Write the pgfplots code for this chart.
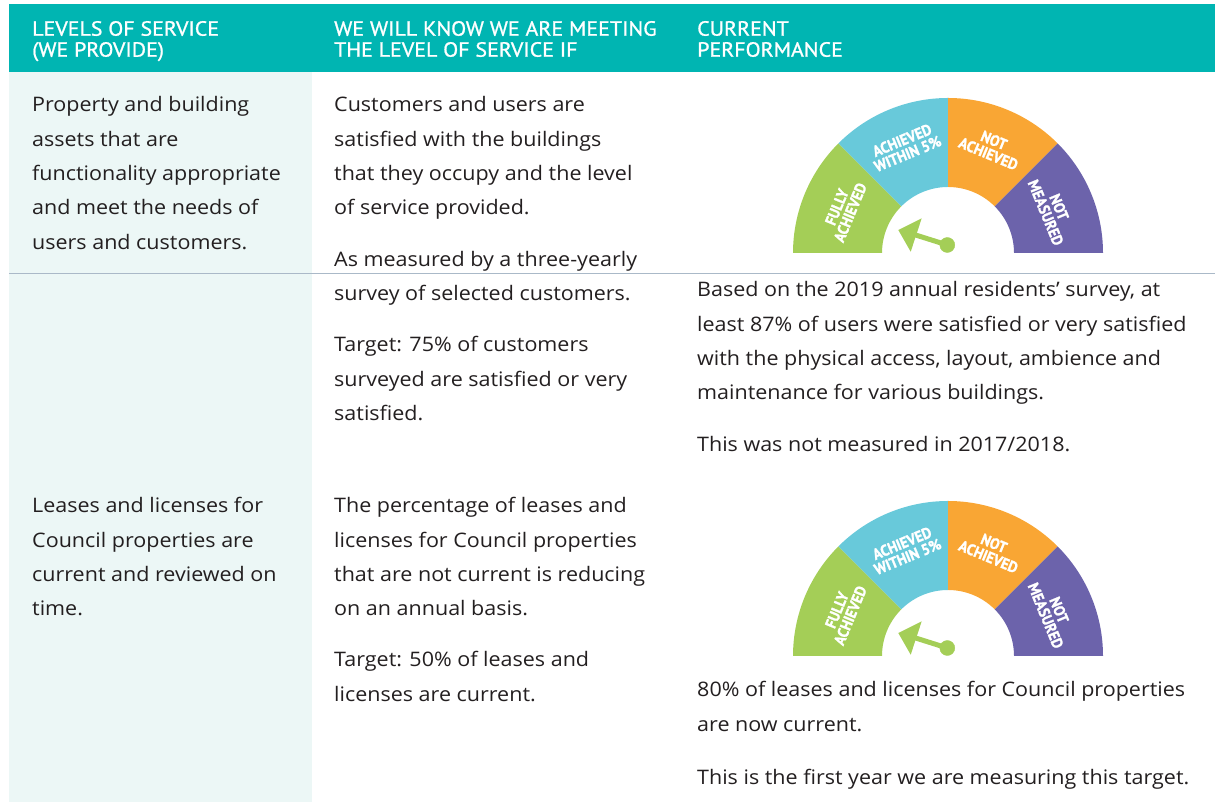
\documentclass[border=0pt]{standalone}
\usepackage{pgfplots}
\pgfplotsset{compat=1.18}
\usepackage{fontspec}
\setmainfont[FakeStretch=1.075]{Open Sans}
\newfontfamily\hdrfont[FakeStretch=1.07,FakeBold=1]{PT Sans}
\newfontfamily\gfont[FakeStretch=0.92,FakeBold=1.5]{PT Sans Bold}
\definecolor{hdr}{RGB}{0,181,178}
\definecolor{leftbg}{RGB}{236,247,246}
\definecolor{sep}{RGB}{170,185,200}
\definecolor{ggreen}{RGB}{164,206,87}
\definecolor{gcyan}{RGB}{104,201,218}
\definecolor{gorange}{RGB}{249,166,52}
\definecolor{gpurple}{RGB}{108,99,171}
\definecolor{txt}{RGB}{35,31,32}
\newcommand{\sector}[4]{% cy, start, end, colour
  \fill[#4] (axis cs:948,#1) ++(#2:155pt) arc[start angle=#2,end angle=#3,radius=155pt]
    -- ([shift={(#3:66pt)}]axis cs:948,#1) arc[start angle=#3,end angle=#2,radius=66pt] -- cycle;}
\newcommand{\gf}{\gfont\fontsize{15.5}{14.5}\selectfont}
\newcommand{\glabels}[1]{%
  \node[rotate=67.5,text=white,align=center,inner sep=0,font=\gf] at (axis cs:843.6,#1+43.2) {FULLY\\ACHIEVED};
  \node[rotate=22.5,text=white,align=center,inner sep=0,font=\gf] at (axis cs:904.8,#1+106) {ACHIEVED\\WITHIN 5\%};
  \node[rotate=-22.5,text=white,align=center,inner sep=0,font=\gf] at (axis cs:991.2,#1+106) {NOT\\ACHIEVED};
  \node[rotate=-67.5,text=white,align=center,inner sep=0,font=\gf] at (axis cs:1052.4,#1+43.2) {NOT\\MEASURED};}
\newcommand{\tl}[3]{\node[anchor=base west,inner sep=0,text=txt,font=\fontsize{20}{24}\selectfont] at (axis cs:#1,#2) {#3};}
\newcommand{\hl}[3]{\node[anchor=base west,inner sep=0,text=white,font=\hdrfont\fontsize{20.5}{24}\selectfont] at (axis cs:#1,#2) {#3};}
\begin{document}
\begin{tikzpicture}
\begin{axis}[width=1215pt,height=802pt,scale only axis,
  xmin=0,xmax=1215,ymin=0,ymax=802,hide axis,clip=false]
% backgrounds
\fill[hdr] (axis cs:9,797.7) rectangle (axis cs:1215,730);
\fill[leftbg] (axis cs:9,730) rectangle (axis cs:312,0);
\draw[sep,line width=1pt] (axis cs:9,528.7) -- (axis cs:1215,528.7);
% header
\hl{32}{766.3}{LEVELS OF SERVICE}
\hl{32}{745.3}{(WE PROVIDE)}
\hl{334}{766.3}{WE WILL KNOW WE ARE MEETING}
\hl{334}{745.3}{THE LEVEL OF SERVICE IF}
\hl{697}{766.3}{CURRENT}
\hl{697}{745.3}{PERFORMANCE}
% row 1
\tl{32}{690.3}{Property and building}
\tl{32}{655.9}{assets that are}
\tl{32}{621.5}{functionality appropriate}
\tl{32}{587.1}{and meet the needs of}
\tl{32}{552.7}{users and customers.}
\tl{334}{690.3}{Customers and users are}
\tl{334}{655.9}{satisfied with the buildings}
\tl{334}{621.5}{that they occupy and the level}
\tl{334}{587.1}{of service provided.}
\tl{334}{535.3}{As measured by a three-yearly}
\tl{334}{501}{survey of selected customers.}
\tl{334}{450}{Target: 75\% of customers}
\tl{334}{415.5}{surveyed are satisfied or very}
\tl{334}{381}{satisfied.}
\tl{697}{505.3}{Based on the 2019 annual residents’ survey, at}
\tl{697}{470.8}{least 87\% of users were satisfied or very satisfied}
\tl{697}{436.4}{with the physical access, layout, ambience and}
\tl{697}{402}{maintenance for various buildings.}
\tl{697}{350.3}{This was not measured in 2017/2018.}
% row 2
\tl{32}{289.3}{Leases and licenses for}
\tl{32}{254.9}{Council properties are}
\tl{32}{220.5}{current and reviewed on}
\tl{32}{186.1}{time.}
\tl{334}{289.3}{The percentage of leases and}
\tl{334}{254.9}{licenses for Council properties}
\tl{334}{220.5}{that are not current is reducing}
\tl{334}{186.1}{on an annual basis.}
\tl{334}{135.3}{Target: 50\% of leases and}
\tl{334}{100.3}{licenses are current.}
\tl{697}{105}{80\% of leases and licenses for Council properties}
\tl{697}{70.5}{are now current.}
\tl{697}{17.5}{This is the first year we are measuring this target.}
% gauge 1 (centre y = 549)
\sector{549}{180}{135}{ggreen}
\sector{549}{135}{90}{gcyan}
\sector{549}{90}{45}{gorange}
\sector{549}{45}{0}{gpurple}
\glabels{549}
\addplot[ggreen,line width=5pt] coordinates {(947.3,557) (914,567.5)};
\addplot[ggreen,fill=ggreen,draw=none] coordinates {(898.3,572) (921.7,583.7) (910.7,550.3) (898.3,572)};
\addplot[only marks,mark=*,mark size=7.5pt,ggreen] coordinates {(947.3,557)};
% gauge 2 (centre y = 146)
\sector{146}{180}{135}{ggreen}
\sector{146}{135}{90}{gcyan}
\sector{146}{90}{45}{gorange}
\sector{146}{45}{0}{gpurple}
\glabels{146}
\addplot[ggreen,line width=5pt] coordinates {(947.3,154) (914,164.5)};
\addplot[ggreen,fill=ggreen,draw=none] coordinates {(898.3,169) (921.7,180.7) (910.7,147.3) (898.3,169)};
\addplot[only marks,mark=*,mark size=7.5pt,ggreen] coordinates {(947.3,154)};
\end{axis}
\pgfresetboundingbox
\path (current axis.south west) rectangle (current axis.north east);
\end{tikzpicture}
\end{document}
